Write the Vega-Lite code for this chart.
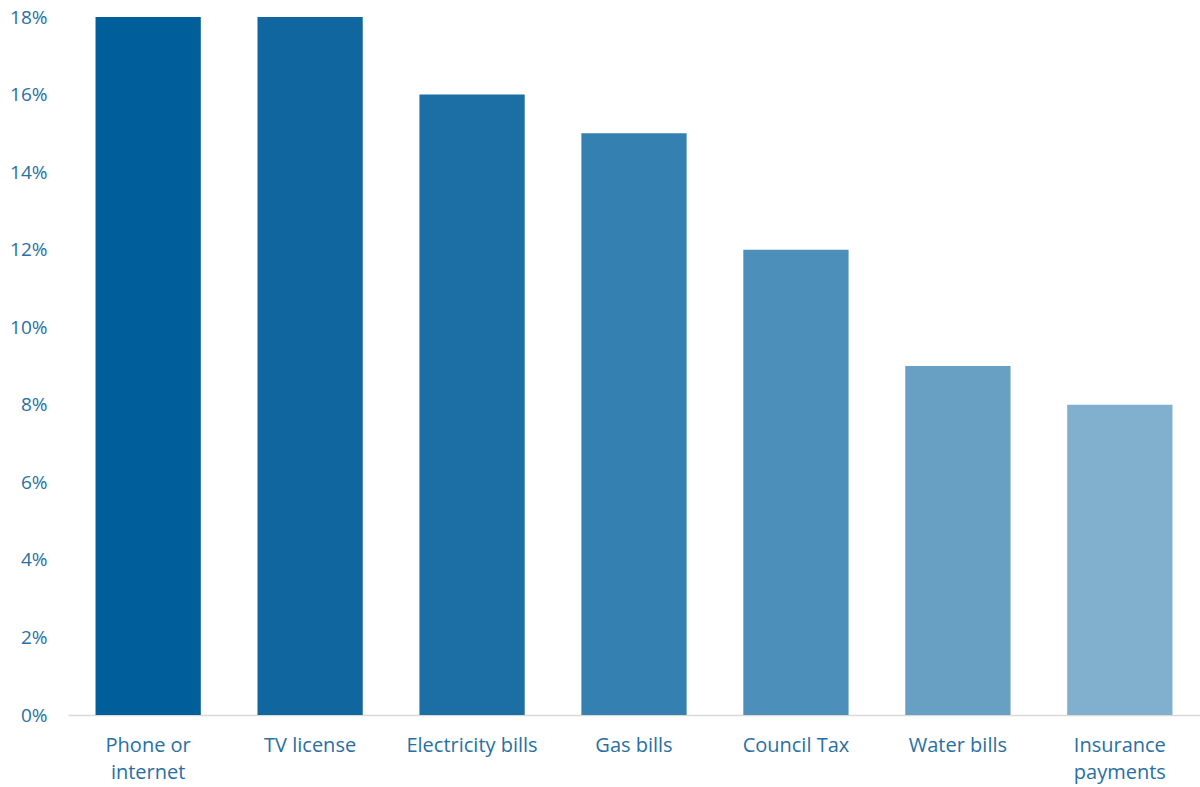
{
  "$schema": "https://vega.github.io/schema/vega-lite/v6.json",
  "width": 1132,
  "height": 698,
  "autosize": {"type": "none"},
  "padding": {"left": 68, "top": 17, "right": 0, "bottom": 72},
  "background": "white",
  "config": {"view": {"stroke": null}, "font": "Open Sans"},
  "data": {
    "values": [
      {"category": "Phone or|internet", "share": 0.18},
      {"category": "TV license", "share": 0.18},
      {"category": "Electricity bills", "share": 0.16},
      {"category": "Gas bills", "share": 0.15},
      {"category": "Council Tax", "share": 0.12},
      {"category": "Water bills", "share": 0.09},
      {"category": "Insurance|payments", "share": 0.08}
    ]
  },
  "mark": {"type": "bar"},
  "encoding": {
    "x": {
      "field": "category",
      "type": "nominal",
      "sort": null,
      "scale": {"paddingInner": 0.35, "paddingOuter": 0.17},
      "axis": {
        "title": null,
        "labelAngle": 0,
        "labelExpr": "split(datum.label, '|')",
        "labelFont": "Open Sans",
        "labelFontSize": 20,
        "labelColor": "#2a6fa3",
        "labelLineHeight": 27,
        "labelPadding": 20,
        "ticks": false,
        "domainColor": "#d9d9d9",
        "domainWidth": 1.5,
        "grid": false
      }
    },
    "y": {
      "field": "share",
      "type": "quantitative",
      "scale": {"domain": [0, 0.18], "nice": false},
      "axis": {
        "title": null,
        "values": [0, 0.02, 0.04, 0.06, 0.08, 0.1, 0.12, 0.14, 0.16, 0.18],
        "format": ".0%",
        "labelFont": "Open Sans",
        "labelFontSize": 19,
        "labelColor": "#2a6fa3",
        "labelPadding": 21,
        "ticks": false,
        "domain": false,
        "grid": false
      }
    },
    "color": {
      "field": "category",
      "type": "nominal",
      "sort": null,
      "legend": null,
      "scale": {
        "domain": ["Phone or|internet", "TV license", "Electricity bills", "Gas bills", "Council Tax", "Water bills", "Insurance|payments"],
        "range": ["#005e9b", "#10679f", "#1c6fa4", "#3480b0", "#4b8fba", "#67a0c3", "#81afce"]
      }
    }
  }
}
